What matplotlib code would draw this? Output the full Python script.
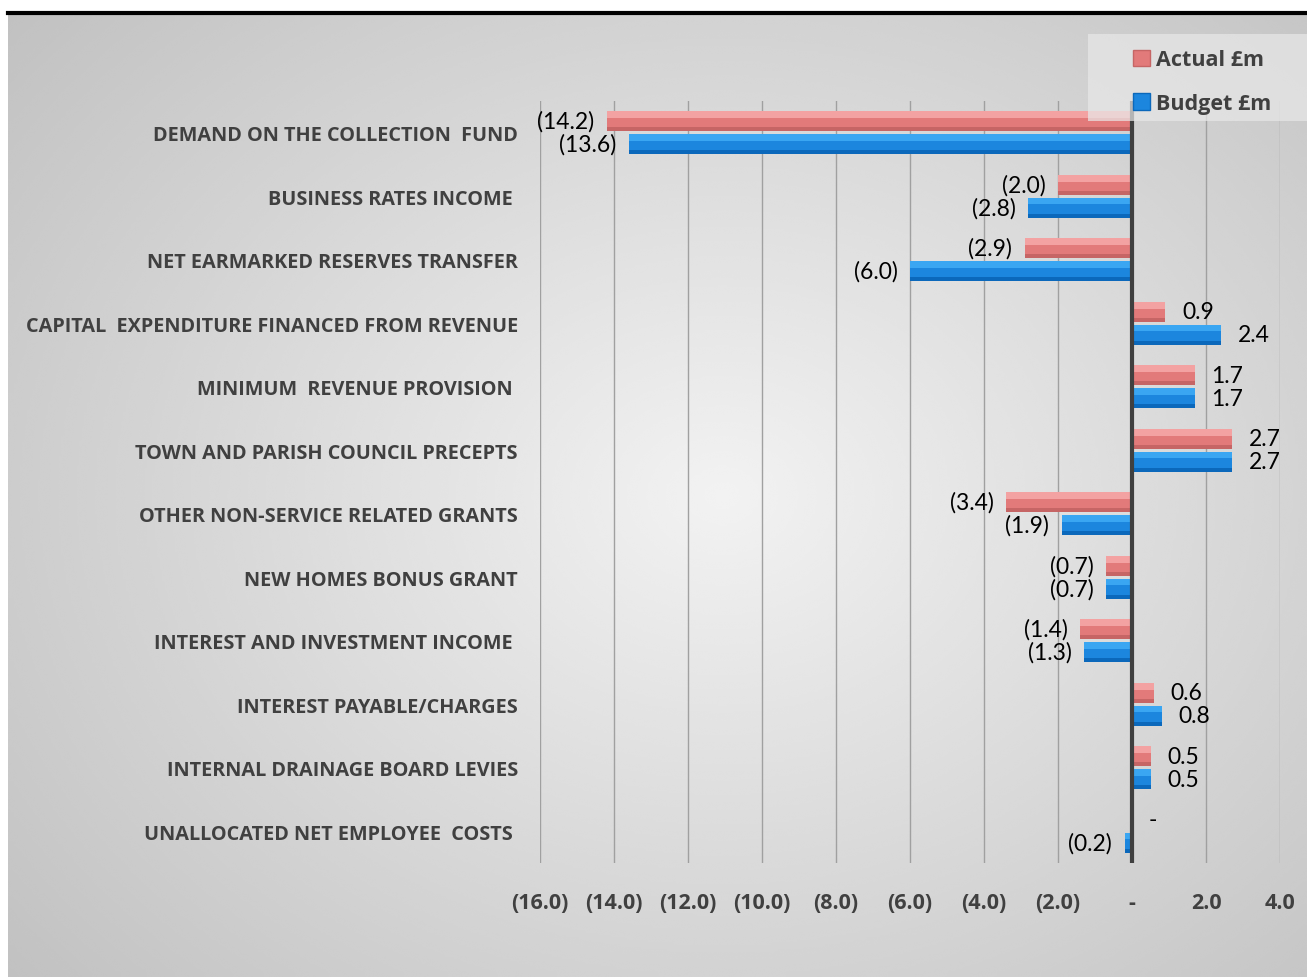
import numpy as np
import matplotlib
matplotlib.use("Agg")
import matplotlib.pyplot as plt
from matplotlib.patches import Patch, Rectangle
from matplotlib.lines import Line2D

categories = [
    "DEMAND ON THE COLLECTION  FUND",
    "BUSINESS RATES INCOME ",
    "NET EARMARKED RESERVES TRANSFER",
    "CAPITAL  EXPENDITURE FINANCED FROM REVENUE",
    "MINIMUM  REVENUE PROVISION ",
    "TOWN AND PARISH COUNCIL PRECEPTS",
    "OTHER NON-SERVICE RELATED GRANTS",
    "NEW HOMES BONUS GRANT",
    "INTEREST AND INVESTMENT INCOME ",
    "INTEREST PAYABLE/CHARGES",
    "INTERNAL DRAINAGE BOARD LEVIES",
    "UNALLOCATED NET EMPLOYEE  COSTS ",
]
actual = [-14.2, -2.0, -2.9, 0.9, 1.7, 2.7, -3.4, -0.7, -1.4, 0.6, 0.5, 0.0]
budget = [-13.6, -2.8, -6.0, 2.4, 1.7, 2.7, -1.9, -0.7, -1.3, 0.8, 0.5, -0.2]
xticks = [-16, -14, -12, -10, -8, -6, -4, -2, 0, 2, 4]
xticklabels = ["(16.0)", "(14.0)", "(12.0)", "(10.0)", "(8.0)", "(6.0)", "(4.0)", "(2.0)", "-", "2.0", "4.0"]
series_names = ["Actual £m", "Budget £m"]

FONT = ["Lato", "DejaVu Sans"]
BFONT = ["Open Sans", "DejaVu Sans"]
W, H = 1307, 978
fig = plt.figure(figsize=(W / 100, H / 100), dpi=100)
fig.patch.set_facecolor("white")

# background gradient
bg = fig.add_axes([8 / W, 0, 1 - 8 / W, 1 - 15 / H], zorder=-10)
yy, xx = np.mgrid[0:1:400j, 0:1:500j]
r = np.sqrt(((xx - 0.55) / 0.75) ** 2 + ((yy - 0.5) / 0.8) ** 2)
val = 0.95 - 0.2 * np.clip(r, 0, 1.2)
bg.imshow(val, cmap="gray", vmin=0, vmax=1, aspect="auto", extent=[0, 1, 0, 1], interpolation="bicubic")
bg.axis("off")

# top black line
fig.add_artist(Line2D([8 / W, 1], [1 - 14 / H, 1 - 14 / H], color="black", lw=3, transform=fig.transFigure))

ax = fig.add_axes([540 / W, 1 - 864 / H, 740 / W, (864 - 102) / H])
ax.patch.set_alpha(0)
n = len(categories)
y = np.arange(n)
off, h = 0.18, 0.32

def draw_bars(vals, ypos, base, light, dark):
    ax.barh(ypos, vals, height=h, color=base, zorder=3)
    ax.barh(ypos - h * 0.33, vals, height=h * 0.34, color=light, zorder=4)
    ax.barh(ypos + h * 0.4, vals, height=h * 0.2, color=dark, zorder=4)

draw_bars(actual, y - off, "#e27a7a", "#f3a2a2", "#c66565")
draw_bars(budget, y + off, "#1c86de", "#3aa6f2", "#0b68bb")

def fmt(v):
    if v == 0:
        return "-"
    if v < 0:
        return "(%.1f)" % abs(v)
    return "%.1f" % v

VFS = 16.5
for vals, ypos in ((actual, y - off), (budget, y + off)):
    for v, yp in zip(vals, ypos):
        if v < 0:
            ax.annotate(fmt(v), (v, yp), xytext=(-9, 0), textcoords="offset points",
                        ha="right", va="center", fontsize=VFS, family=FONT, color="black")
        else:
            ax.annotate(fmt(v), (v, yp), xytext=(12, 0), textcoords="offset points",
                        ha="left", va="center", fontsize=VFS, family=FONT, color="black")

ax.set_xlim(-16, 4)
ax.set_ylim(n - 0.5, -0.5)
ax.set_xticks(xticks)
ax.set_xticklabels(xticklabels, fontsize=15.5, fontweight="bold", family=BFONT, color="#404040")
ax.set_yticks(y)
ax.set_yticklabels(categories, fontsize=14.3, fontweight="bold", family=BFONT, color="#404040")
ax.tick_params(axis="x", length=0, pad=21)
ax.tick_params(axis="y", length=0, pad=16)
for s in ax.spines.values():
    s.set_visible(False)
ax.grid(axis="x", color="#a0a0a0", lw=1, zorder=1)
ax.axvline(0, color="#404040", lw=3, zorder=5)

# legend background box
fig.add_artist(Rectangle((1088 / W, 1 - 122 / H), (W - 1088) / W, 87 / H, transform=fig.transFigure,
                         facecolor="#e8e8e8", alpha=0.7, edgecolor="none", zorder=6))
handles = [Patch(facecolor="#e27a7a", edgecolor="#c66565"), Patch(facecolor="#1c86de", edgecolor="#0b68bb")]
leg = fig.legend(handles, series_names, loc="upper right", bbox_to_anchor=(1276 / W, 1 - 46 / H),
                 bbox_transform=fig.transFigure, frameon=False,
                 prop={"family": BFONT, "weight": "bold", "size": 15.5},
                 handlelength=0.8, handleheight=0.8, handletextpad=0.3, labelspacing=1.05,
                 borderpad=0.2, borderaxespad=0)
leg.set_zorder(7)
for t in leg.get_texts():
    t.set_color("#404040")

fig.savefig("out.png", dpi=100)
